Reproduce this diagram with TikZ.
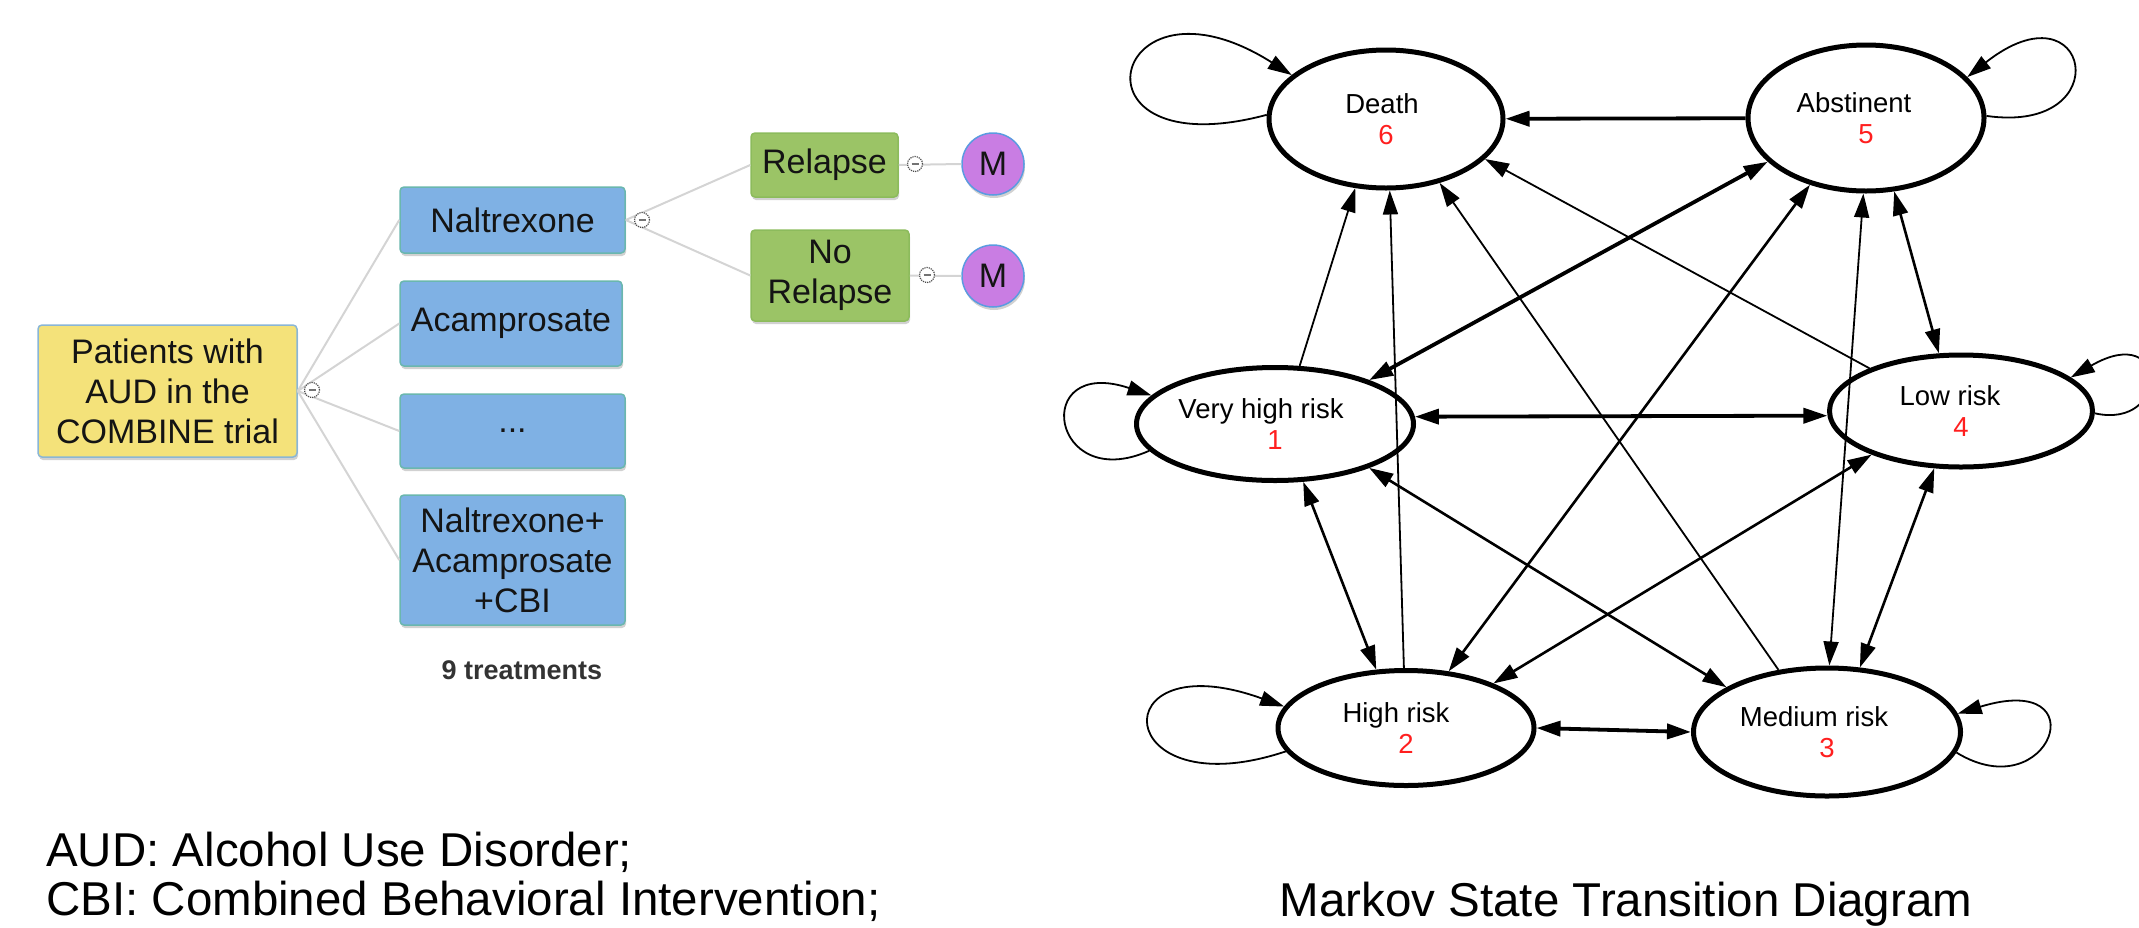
\documentclass[tikz,border=0pt]{standalone}
\usepackage{fontspec}
\setmainfont{Liberation Sans}
\usetikzlibrary{arrows.meta,shapes.geometric,shadows}
\definecolor{ylwfill}{HTML}{F4E27A}
\definecolor{ylwdraw}{HTML}{8AB6D6}
\definecolor{bluefill}{HTML}{7FB1E4}
\definecolor{bluedraw}{HTML}{6AB7AE}
\definecolor{grnfill}{HTML}{9BC466}
\definecolor{grndraw}{HTML}{8CBB5C}
\definecolor{purpfill}{HTML}{C97DE3}
\definecolor{purpdraw}{HTML}{5B9BE0}
\definecolor{treeline}{HTML}{D4D4D4}
\definecolor{numred}{HTML}{FF1F1F}
\begin{document}
\begin{tikzpicture}[x=1pt,y=-1pt,
  tbox/.style={draw, line width=1.5pt, rounded corners=4pt, inner sep=0pt, align=center,
    font=\fontsize{34pt}{40pt}\selectfont, text=black!92,
    drop shadow={shadow xshift=1pt, shadow yshift=-3pt, opacity=0.18, fill=black}},
  ybox/.style={tbox, fill=ylwfill, draw=ylwdraw},
  bbox/.style={tbox, fill=bluefill, draw=bluedraw},
  gbox/.style={tbox, fill=grnfill, draw=grndraw},
  mcirc/.style={circle, draw=purpdraw, fill=purpfill, line width=1.5pt, inner sep=0pt,
    minimum size=62pt, font=\fontsize{34pt}{40pt}\selectfont, text=black!92,
    drop shadow={shadow xshift=1pt, shadow yshift=-3pt, opacity=0.18, fill=black}},
  tline/.style={draw=treeline, line width=2pt},
  collapse/.style={circle, draw=black!70, line width=1.2pt, densely dotted, fill=white,
    minimum size=15pt, inner sep=0pt,
    path picture={\draw[black!55, line width=1.2pt, solid]
      ([xshift=-3.5pt]path picture bounding box.center) --
      ([xshift=3.5pt]path picture bounding box.center);}},
  state/.style={ellipse, draw, line width=5pt, inner sep=0pt, align=center,
    font=\fontsize{27.5pt}{31pt}\selectfont},
  >={Triangle[length=24pt,width=15pt]},
  thickE/.style={line width=3.8pt},
  medE/.style={line width=2.6pt},
  thinE/.style={line width=1.8pt},
  caption/.style={font=\fontsize{47.5pt}{54pt}\selectfont, inner sep=0pt}
]
\useasboundingbox (0,0) rectangle (2139,927);

% ---------------- decision tree ----------------
\node[ybox, minimum width=259pt, minimum height=132pt] (y) at (167.5,391)
  {Patients with\\AUD in the\\COMBINE trial};
\node[bbox, minimum width=225pt, minimum height=66pt] (n1) at (512.5,220) {Naltrexone};
\node[bbox, minimum width=222pt, minimum height=85pt] (n2) at (511,323.5) {Acamprosate};
\node[bbox, minimum width=225pt, minimum height=74pt] (n3) at (512.5,431) {...};
\node[bbox, minimum width=225pt, minimum height=130pt] (n4) at (512.5,560)
  {Naltrexone+\\Acamprosate\\+CBI};
\node[gbox, minimum width=147pt, minimum height=64pt] (r1) at (824.5,165) {Relapse};
\node[gbox, minimum width=158pt, minimum height=91pt] (r2) at (830,275.5) {No\\Relapse};
\node[mcirc] (m1) at (993,164) {M};
\node[mcirc] (m2) at (993,276) {M};

\draw[tline] (y.east) -- (n1.west);
\draw[tline] (y.east) -- (n2.west);
\draw[tline] (y.east) -- (n3.west);
\draw[tline] (y.east) -- (n4.west);
\draw[tline] (n1.east) -- (r1.west);
\draw[tline] (n1.east) -- (r2.west);
\draw[tline] (r1.east) -- (m1.west);
\draw[tline] (r2.east) -- (m2.west);

\node[collapse] (c0) at (312,390) {};
\node[collapse] (c1) at (642,220) {};
\node[collapse] (c2) at (915,164) {};
\node[collapse] (c3) at (927,275) {};

\node[font=\bfseries\fontsize{27pt}{32pt}\selectfont, text=black!80] (nt) at (522,670) {9 treatments};

% ---------------- Markov diagram ----------------
\node[state, minimum width=234pt, minimum height=138pt] (s6) at (1386,119)
  {Death\hspace*{8pt}\\\textcolor{numred}{6}};
\node[state, minimum width=236pt, minimum height=146pt] (s5) at (1866,118)
  {Abstinent\hspace*{24pt}\\\textcolor{numred}{5}};
\node[state, minimum width=277pt, minimum height=113pt] (s1) at (1275,424)
  {Very high risk\hspace*{28pt}\\\textcolor{numred}{1}};
\node[state, minimum width=263pt, minimum height=112pt] (s4) at (1961,411)
  {Low risk\hspace*{22pt}\\\textcolor{numred}{4}};
\node[state, minimum width=256pt, minimum height=115pt] (s2) at (1406,728)
  {High risk\hspace*{20pt}\\\textcolor{numred}{2}};
\node[state, minimum width=267pt, minimum height=128pt] (s3) at (1827,732)
  {Medium risk\hspace*{26pt}\\\textcolor{numred}{3}};

% transitions
\draw[thickE,->] (s5) -- (s6);
\draw[thinE,->] (s1.67) -- (s6.246);
\draw[thinE,->] (s2.92) -- (s6.273);
\draw[thinE,->] (s3.128) -- (s6.310);
\draw[thinE,->] (s4.155) -- (s6.338);
\draw[thickE,<->] (s1.25) -- (s5.204);
\draw[medE,<->] (s2.53) -- (s5.230);
\draw[thinE,<->] (s3.88) -- (s5.268);
\draw[medE,<->] (s4.111) -- (s5.291);
\draw[thickE,<->] (s1.3) -- (s4.182);
\draw[medE,<->] (s1.296) -- (s2.117);
\draw[medE,<->] (s1.335) -- (s3.156);
\draw[medE,<->] (s4.206) -- (s2.27);
\draw[medE,<->] (s4.245) -- (s3.63);
\draw[thickE,<->] (s2.east) -- (s3.west);

% self loops
\draw[thinE,->] (s6.178) .. controls (1060,170) and (1110,-40) .. (s6.155);
\draw[thinE,->] (s5.1) .. controls (2120,135) and (2090,-20) .. (s5.22);
\draw[thinE,->] (s4.-1) .. controls (2170,430) and (2170,320) .. (s4.17);
\draw[thinE,->] (s1.192) .. controls (1050,495) and (1030,355) .. (s1.167);
\draw[thinE,->] (s2.191) .. controls (1110,810) and (1100,640) .. (s2.170);
\draw[thinE,->] (s3.-9) .. controls (2050,810) and (2100,670) .. (s3.8);

% ---------------- captions ----------------
\node[caption, anchor=base west] (cap1) at (46,866) {AUD: Alcohol Use Disorder;};
\node[caption, anchor=base west] (cap2) at (46,915) {CBI: Combined Behavioral Intervention;};
\node[caption, anchor=base] (cap3) at (1626,916) {Markov State Transition Diagram};
\end{tikzpicture}
\end{document}
